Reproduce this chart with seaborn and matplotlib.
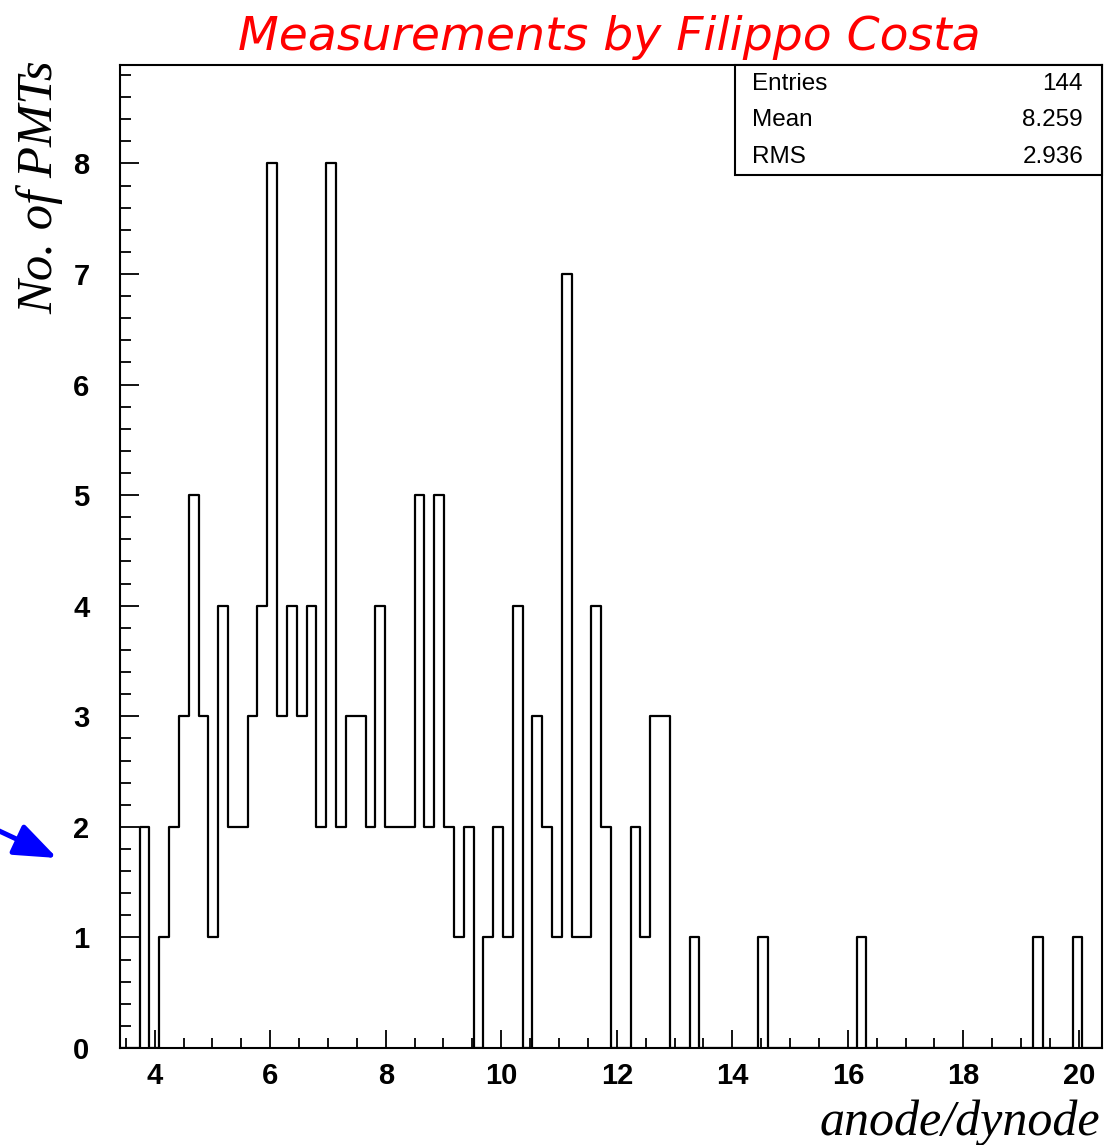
import matplotlib
matplotlib.use("Agg")
import matplotlib.pyplot as plt
import matplotlib.patches as mpatches
from matplotlib.ticker import MultipleLocator
import numpy as np
import pandas as pd
import seaborn as sns

# histogram: 100 bins from 3.4 to 20.4
x_min, x_max, n_bins = 3.4, 20.4, 100
counts = [0, 0, 2, 0, 1, 2, 3, 5, 3, 1,
          4, 2, 2, 3, 4, 8, 3, 4, 3, 4,
          2, 8, 2, 3, 3, 2, 4, 2, 2, 2,
          5, 2, 5, 2, 1, 2, 0, 1, 2, 1,
          4, 0, 3, 2, 1, 7, 1, 1, 4, 2,
          0, 0, 2, 1, 3, 3, 0, 0, 1, 0,
          0, 0, 0, 0, 0, 1, 0, 0, 0, 0,
          0, 0, 0, 0, 0, 1, 0, 0, 0, 0,
          0, 0, 0, 0, 0, 0, 0, 0, 0, 0,
          0, 0, 0, 1, 0, 0, 0, 1, 0, 0]
stat_names = ["Entries", "Mean", "RMS"]
stat_values = ["144", "8.259", "2.936"]
x_ticks = [4, 6, 8, 10, 12, 14, 16, 18, 20]
y_ticks = [0, 1, 2, 3, 4, 5, 6, 7, 8]

edges = np.linspace(x_min, x_max, n_bins + 1)
df = pd.DataFrame({"ratio": (edges[:-1] + edges[1:]) / 2, "n": counts})

W, H = 1119, 1145
sns.set_style("white")
fig = plt.figure(figsize=(W / 100, H / 100), dpi=100)
ax = fig.add_axes([120 / W, 1 - 1048 / H, (1102 - 120) / W, (1048 - 65) / H])

sns.histplot(data=df, x="ratio", weights="n", bins=n_bins, binrange=(x_min, x_max),
             element="step", fill=False, color="black", linewidth=1.6, ax=ax)

ax.set_xlim(x_min, x_max)
ax.set_ylim(0, 8.89)
ax.set_xlabel("")
ax.set_ylabel("")
for s in ax.spines.values():
    s.set_color("black")
    s.set_linewidth(1.5)

ax.set_xticks(x_ticks)
ax.set_yticks(y_ticks)
ax.xaxis.set_minor_locator(MultipleLocator(0.5))
ax.yaxis.set_minor_locator(MultipleLocator(0.2))
ax.tick_params(which="both", direction="in", bottom=True, left=True, top=False, right=False,
               color="black", width=1.3, labelcolor="black")
ax.tick_params(axis="y", which="major", length=14, pad=22)
ax.tick_params(axis="y", which="minor", length=8)
ax.tick_params(axis="x", which="major", length=13, pad=10)
ax.tick_params(axis="x", which="minor", length=7)
for lab in ax.get_xticklabels() + ax.get_yticklabels():
    lab.set_fontfamily("Liberation Sans")
    lab.set_fontweight("bold")
    lab.set_fontsize(21)

# title and axis titles
fig.text(609 / W, 1 - 50 / H, "Measurements by Filippo Costa", color="red",
         fontsize=34, style="italic", family="DejaVu Sans", ha="center", va="baseline")
fig.text(40 / W, 1 - 60 / H, "No. of PMTs", rotation=90, fontsize=36.5, style="italic",
         family="Liberation Serif", ha="center", va="top", color="black")
fig.text(1100 / W, 1 - 1135 / H, "anode/dynode", fontsize=36, style="italic",
         family="Liberation Serif", ha="right", va="baseline", color="black")

# stats box
box = mpatches.Rectangle((735 / W, 1 - 175 / H), (1102 - 735) / W, (175 - 65) / H,
                         transform=fig.transFigure, fill=True, facecolor="white",
                         edgecolor="black", linewidth=1.5, zorder=5)
fig.add_artist(box)
for i, (n, v) in enumerate(zip(stat_names, stat_values)):
    yy = 1 - (84 + 36.5 * i) / H
    fig.text(752 / W, yy, n, fontsize=17.5, family="Liberation Sans", ha="left", va="center",
             zorder=6, color="black")
    fig.text(1083 / W, yy, v, fontsize=17.5, family="Liberation Sans", ha="right", va="center",
             zorder=6, color="black")

# blue arrow
arrow = mpatches.FancyArrowPatch((-5 / W, 1 - 829 / H), (57 / W, 1 - 858 / H),
                                 transform=fig.transFigure, arrowstyle="-|>,head_length=26,head_width=10",
                                 mutation_scale=1, color="blue", linewidth=3.6, shrinkA=0, shrinkB=0)
fig.add_artist(arrow)

fig.savefig("out.png", dpi=100)
